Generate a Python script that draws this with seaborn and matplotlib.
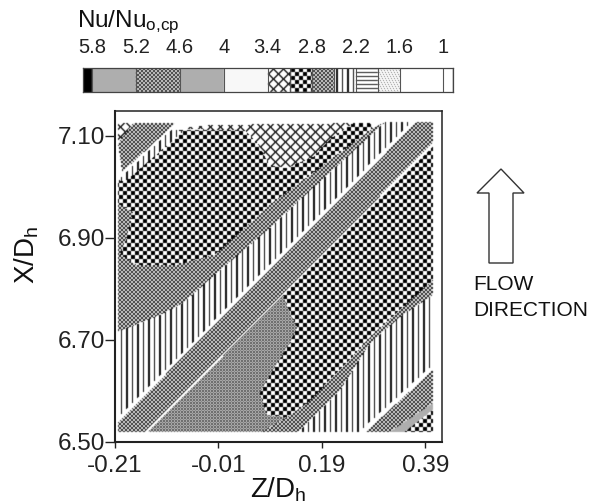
import numpy as np
import seaborn as sns
import matplotlib.pyplot as plt
from matplotlib.path import Path
from matplotlib.patches import Polygon

sns.set_theme(style='white')
plt.rcParams['font.family'] = ['Liberation Sans', 'DejaVu Sans']
plt.rcParams['mathtext.fontset'] = 'custom'
plt.rcParams['mathtext.rm'] = 'Liberation Sans'
plt.rcParams['mathtext.default'] = 'regular'

# colour bar: band edges and which fill each band has
level_edges = [5.92, 5.8, 5.2, 4.6, 4.0, 3.4, 3.1, 2.8, 2.5, 2.2, 1.9, 1.6, 1.0, 0.87]
level_fills = ['black', 'gray', 'fine', 'gray', 'pale', 'cross', 'check', 'fine',
               'vert', 'horiz', 'dots', 'white', 'white']
level_ticks = [5.8, 5.2, 4.6, 4, 3.4, 2.8, 2.2, 1.6, 1]

z_ticks = [-0.21, -0.01, 0.19, 0.39]
x_ticks = [6.50, 6.70, 6.90, 7.10]
z_lim = [-0.21, 0.422]
x_lim = [6.50, 7.149]

# contour regions, (Z/Dh, X/Dh)
upper_check = [(-0.204, 7.014), (-0.090, 7.112), (0.041, 7.112), (0.064, 7.088), (0.089, 7.043),
               (0.122, 7.037), (0.173, 7.059), (0.211, 7.098), (0.250, 7.125), (0.283, 7.125),
               (0.288, 7.115), (0.089, 6.965), (-0.017, 6.867), (-0.094, 6.847), (-0.167, 6.847),
               (-0.200, 6.867), (-0.187, 6.902), (-0.175, 6.951), (-0.204, 6.968)]
top_cross = [(-0.084, 7.115), (-0.036, 7.121), (0.074, 7.123), (0.250, 7.125), (0.211, 7.098),
             (0.173, 7.059), (0.122, 7.037), (0.089, 7.043), (0.064, 7.088), (0.041, 7.112),
             (-0.026, 7.112)]
corner_cross = [(-0.204, 7.125), (-0.175, 7.125), (-0.204, 7.086)]
corner_fine = [(-0.175, 7.125), (-0.094, 7.125), (-0.196, 7.029), (-0.204, 7.086)]
corner_vert = [(-0.098, 7.115), (-0.079, 7.108), (-0.191, 7.010), (-0.204, 7.014)]
left_fine = [(-0.204, 6.968), (-0.175, 6.951), (-0.187, 6.902), (-0.200, 6.867), (-0.167, 6.847),
             (-0.094, 6.847), (-0.017, 6.867), (0.089, 6.965), (0.288, 7.115), (0.312, 7.127),
             (0.153, 6.980), (0.089, 6.919), (-0.007, 6.837), (-0.079, 6.772), (-0.123, 6.749),
             (-0.204, 6.716)]
upper_vert = [(-0.204, 6.716), (-0.123, 6.749), (-0.079, 6.772), (-0.007, 6.837), (0.089, 6.919),
              (0.153, 6.980), (0.312, 7.127), (0.364, 7.127), (-0.204, 6.539)]
main_band = [(-0.204, 6.539), (0.373, 7.127), (0.404, 7.127), (0.404, 7.086), (-0.152, 6.520),
             (-0.204, 6.520)]
band_edge_up = [(-0.204, 6.548), (0.363, 7.127), (0.373, 7.127), (-0.204, 6.539)]
band_edge_low = [(-0.152, 6.520), (-0.146, 6.520), (0.404, 7.079), (0.404, 7.086)]
lower_gray = [(-0.146, 6.520), (0.115, 6.788), (0.128, 6.753), (0.142, 6.725), (0.128, 6.694),
              (0.093, 6.637), (0.070, 6.596), (0.084, 6.553), (0.122, 6.549), (0.074, 6.520)]
lower_check = [(0.404, 7.079), (0.404, 6.818), (0.283, 6.706), (0.238, 6.655), (0.161, 6.576),
               (0.122, 6.549), (0.084, 6.553), (0.070, 6.596), (0.093, 6.637), (0.128, 6.694),
               (0.142, 6.725), (0.128, 6.753), (0.115, 6.788)]
lower_fine = [(0.404, 6.818), (0.404, 6.788), (0.341, 6.745), (0.283, 6.694), (0.225, 6.602),
              (0.161, 6.537), (0.144, 6.520), (0.074, 6.520), (0.122, 6.549), (0.161, 6.576),
              (0.238, 6.655), (0.283, 6.706)]
lower_vert = [(0.144, 6.520), (0.161, 6.537), (0.225, 6.602), (0.283, 6.694), (0.341, 6.745),
              (0.404, 6.788), (0.404, 6.651), (0.262, 6.520)]
right_edge = [(0.262, 6.520), (0.404, 6.651), (0.404, 6.641), (0.275, 6.520)]
right_band = [(0.275, 6.520), (0.404, 6.641), (0.404, 6.520)]
right_spots = [(0.350, 6.520), (0.379, 6.543), (0.404, 6.563), (0.404, 6.520)]
right_streak = [(0.321, 6.520), (0.379, 6.559), (0.404, 6.576), (0.404, 6.563), (0.379, 6.543),
                (0.350, 6.520)]

regions = [(upper_check, 'check'), (top_cross, 'cross'), (corner_cross, 'cross'),
           (corner_fine, 'fine'), (corner_vert, 'vert'), (left_fine, 'fine'),
           (upper_vert, 'vert'), (main_band, 'fine'), (band_edge_up, 'white'),
           (band_edge_low, 'white'), (lower_gray, 'small'), (lower_check, 'check'),
           (lower_fine, 'fine'), (lower_vert, 'vert'), (right_edge, 'white'),
           (right_band, 'fine'), (right_spots, 'check'), (right_streak, 'gray')]


def texture(name, i, j):
    if name == 'black':
        return np.zeros_like(i, dtype=float)
    if name == 'gray':
        return np.full_like(i, 0.68, dtype=float)
    if name == 'pale':
        return np.full_like(i, 0.97, dtype=float)
    if name == 'white':
        return np.ones_like(i, dtype=float)
    if name == 'fine':
        return 0.12 + 0.8 * ((i // 2 + j // 2) % 2)
    if name == 'small':
        return 0.3 + 0.55 * (((i * 2) // 3 + (j * 2) // 3) % 2)
    if name == 'check':
        return 1.0 * ((i // 4 + j // 4) % 2)
    if name == 'cross':
        return 1.0 - 0.9 * ((((i + j) % 10) < 2) | (((i - j) % 10) < 2))
    if name == 'vert':
        return 1.0 - 0.95 * ((j * 2 % 11) < 3)
    if name == 'horiz':
        return 1.0 - 0.9 * ((i % 4) < 1)
    if name == 'dots':
        return 1.0 - 0.6 * (((i + j) % 3 == 0) & (i % 2 == 0))


def soften(img):
    # the original is a scan, so take the hard edge off the pixels
    for axis in (0, 1):
        img = 0.7 * img + 0.15 * (np.roll(img, 1, axis) + np.roll(img, -1, axis))
    return img


fig = plt.figure(figsize=(5.98, 5.04), dpi=100)

# main contour map, one heatmap cell per output pixel
ax = fig.add_axes([115 / 598, 1 - 442 / 504, 327 / 598, 331 / 504])
rows, cols = 331, 327
ii, jj = np.mgrid[0:rows, 0:cols]
zz = z_lim[0] + (jj + 0.5) / cols * (z_lim[1] - z_lim[0])
xx = x_lim[1] - (ii + 0.5) / rows * (x_lim[1] - x_lim[0])
pts = np.column_stack([zz.ravel(), xx.ravel()])
field = np.ones((rows, cols))
for poly, fill in regions:
    mask = Path(poly).contains_points(pts).reshape(rows, cols)
    field[mask] = texture(fill, ii, jj)[mask]
field = soften(field)
sns.heatmap(field, ax=ax, cmap='gray', vmin=0, vmax=1, cbar=False,
            xticklabels=False, yticklabels=False)

ax.set_xticks([(v - z_lim[0]) / (z_lim[1] - z_lim[0]) * cols for v in z_ticks])
ax.set_xticklabels(['%.2f' % v for v in z_ticks], fontsize=17.5, color='#222222')
ax.set_yticks([(x_lim[1] - v) / (x_lim[1] - x_lim[0]) * rows for v in x_ticks])
ax.set_yticklabels(['%.2f' % v for v in x_ticks], fontsize=17.5, color='#222222', rotation=0)
ax.tick_params(axis='x', bottom=True, length=4.5, width=1, color='#222222', pad=4.5, rotation=0)
ax.tick_params(axis='y', left=True, length=7, width=1, color='#222222', pad=0)
for side, lw in [('left', 1.5), ('bottom', 1.5), ('top', 1.1), ('right', 1.1)]:
    ax.spines[side].set_visible(True)
    ax.spines[side].set_linewidth(lw)
    ax.spines[side].set_color('#222222')
ax.set_xlabel('Z/D$_{h}$', fontsize=20, color='#111111')
ax.set_ylabel('X/D$_{h}$', fontsize=20, color='#111111')
ax.xaxis.set_label_coords(0.5, -0.1)
ax.yaxis.set_label_coords(-0.225, 0.565)

# colour bar built the same way
bar = fig.add_axes([83 / 598, 1 - 92 / 504, 370 / 598, 24 / 504])
bi, bj = np.mgrid[0:24, 0:370]
span = level_edges[0] - level_edges[-1]
vals = level_edges[0] - (bj + 0.5) / 370 * span
band = np.searchsorted(-np.array(level_edges), -vals) - 1
strip = np.ones((24, 370))
for k, fill in enumerate(level_fills):
    strip[band == k] = texture(fill, bi, bj)[band == k]
strip = soften(strip)
sns.heatmap(strip, ax=bar, cmap='gray', vmin=0, vmax=1, cbar=False,
            xticklabels=False, yticklabels=False)
bar.vlines([(level_edges[0] - v) / span * 370 for v in level_edges[1:-1]], 0, 24,
           color='#555555', linewidth=0.8)
bar.xaxis.tick_top()
bar.set_xticks([(level_edges[0] - v) / span * 370 for v in level_ticks])
bar.set_xticklabels([str(v) for v in level_ticks], fontsize=14.5, color='#222222', rotation=0)
bar.tick_params(axis='x', top=False, bottom=False, length=0, pad=8)
for s in bar.spines.values():
    s.set_visible(True)
    s.set_linewidth(0.9)
    s.set_color('#444444')

# overlay in pixel units for the free text and the arrow
over = fig.add_axes([0, 0, 1, 1])
over.set_xlim(0, 598)
over.set_ylim(504, 0)
over.axis('off')
over.patch.set_alpha(0)
over.text(77, 27, 'Nu/Nu$_{o{,}cp}$', fontsize=17.5, color='#111111', va='baseline')
over.text(473, 290, 'FLOW', fontsize=15, color='#111111', va='baseline')
over.text(473, 316, 'DIRECTION', fontsize=15, color='#111111', va='baseline')
over.add_patch(Polygon([(501, 169), (524, 193), (513, 193), (513, 263), (489, 263), (489, 193), (477, 193)],
                       closed=True, facecolor='white', edgecolor='#333333', linewidth=1))

fig.savefig('out.png', dpi=100)
